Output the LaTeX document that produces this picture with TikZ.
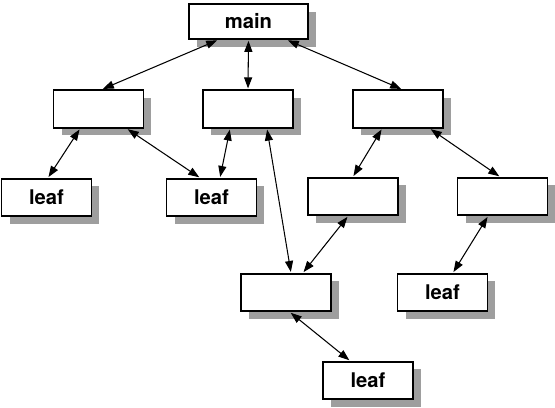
\documentclass[tikz,border=0pt]{standalone}
\usepackage{fontspec}
\setsansfont{TeX Gyre Heros}
\usetikzlibrary{arrows.meta,shadows}

\tikzset{
  box/.style={draw, line width=1.1pt, fill=white, minimum width=1.8cm, minimum height=0.75cm,
    inner sep=0pt, font=\fontsize{11.5}{13}\selectfont\sffamily\bfseries,
    drop shadow={shadow xshift=0.16cm, shadow yshift=-0.15cm, fill=black!38, opacity=1}},
  link/.style={{Triangle[length=2.2mm,width=1.6mm]}-{Triangle[length=2.2mm,width=1.6mm]}, line width=0.6pt, shorten <=0.5pt, shorten >=0.5pt}
}

\begin{document}
\begin{tikzpicture}[x=0.02cm, y=-0.02cm]
            \useasboundingbox (0,0) rectangle (555,407);
            % Wurzel
            \node [box, minimum width=2.38cm, minimum height=0.7cm] (main) at (248.5, 21.5) {main};
            % zweite Ebene
            \node [box] (a) at ( 98.5, 109) {};
            \node [box] (b) at (248,   109) {};
            \node [box] (c) at (398,   109) {};
            % dritte Ebene
            \node [box] (leafA) at ( 46.5, 197.5) {leaf};
            \node [box] (leafB) at (211.5, 197.5) {leaf};
            \node [box] (d)     at (353,   196.5) {};
            \node [box] (e)     at (502.5, 196.5) {};
            % vierte Ebene
            \node [box] (f)     at (286,   292.5) {};
            \node [box] (leafC) at (442.5, 292.5) {leaf};
            % unten
            \node [box] (leafD) at (368,   380.5) {leaf};
            % Verbindungen
            \draw [link] ([xshift=-0.61cm]main.south) -- ([xshift=0.07cm]a.north);
            \draw [link] (main.south) -- (b.north);
            \draw [link] ([xshift=0.77cm]main.south) -- ([xshift=0.08cm]c.north);
            \draw [link] ([xshift=-0.37cm]a.south) -- ([xshift=0.03cm]leafA.north);
            \draw [link] ([xshift=0.57cm]a.south) -- ([xshift=-0.23cm]leafB.north);
            \draw [link] ([xshift=-0.36cm]b.south) -- ([xshift=0.17cm]leafB.north);
            \draw [link] ([xshift=0.38cm]b.south) -- ([xshift=0.1cm]f.north);
            \draw [link] ([xshift=-0.32cm]c.south) -- (d.north);
            \draw [link] ([xshift=0.64cm]c.south) -- ([xshift=-0.05cm]e.north);
            \draw [link] ([xshift=-0.1cm]d.south) -- ([xshift=0.34cm]f.north);
            \draw [link] ([xshift=-0.29cm]e.south) -- ([xshift=0.21cm]leafC.north);
            \draw [link] ([xshift=0.08cm]f.south) -- ([xshift=-0.36cm]leafD.north);
        \end{tikzpicture}
\end{document}
